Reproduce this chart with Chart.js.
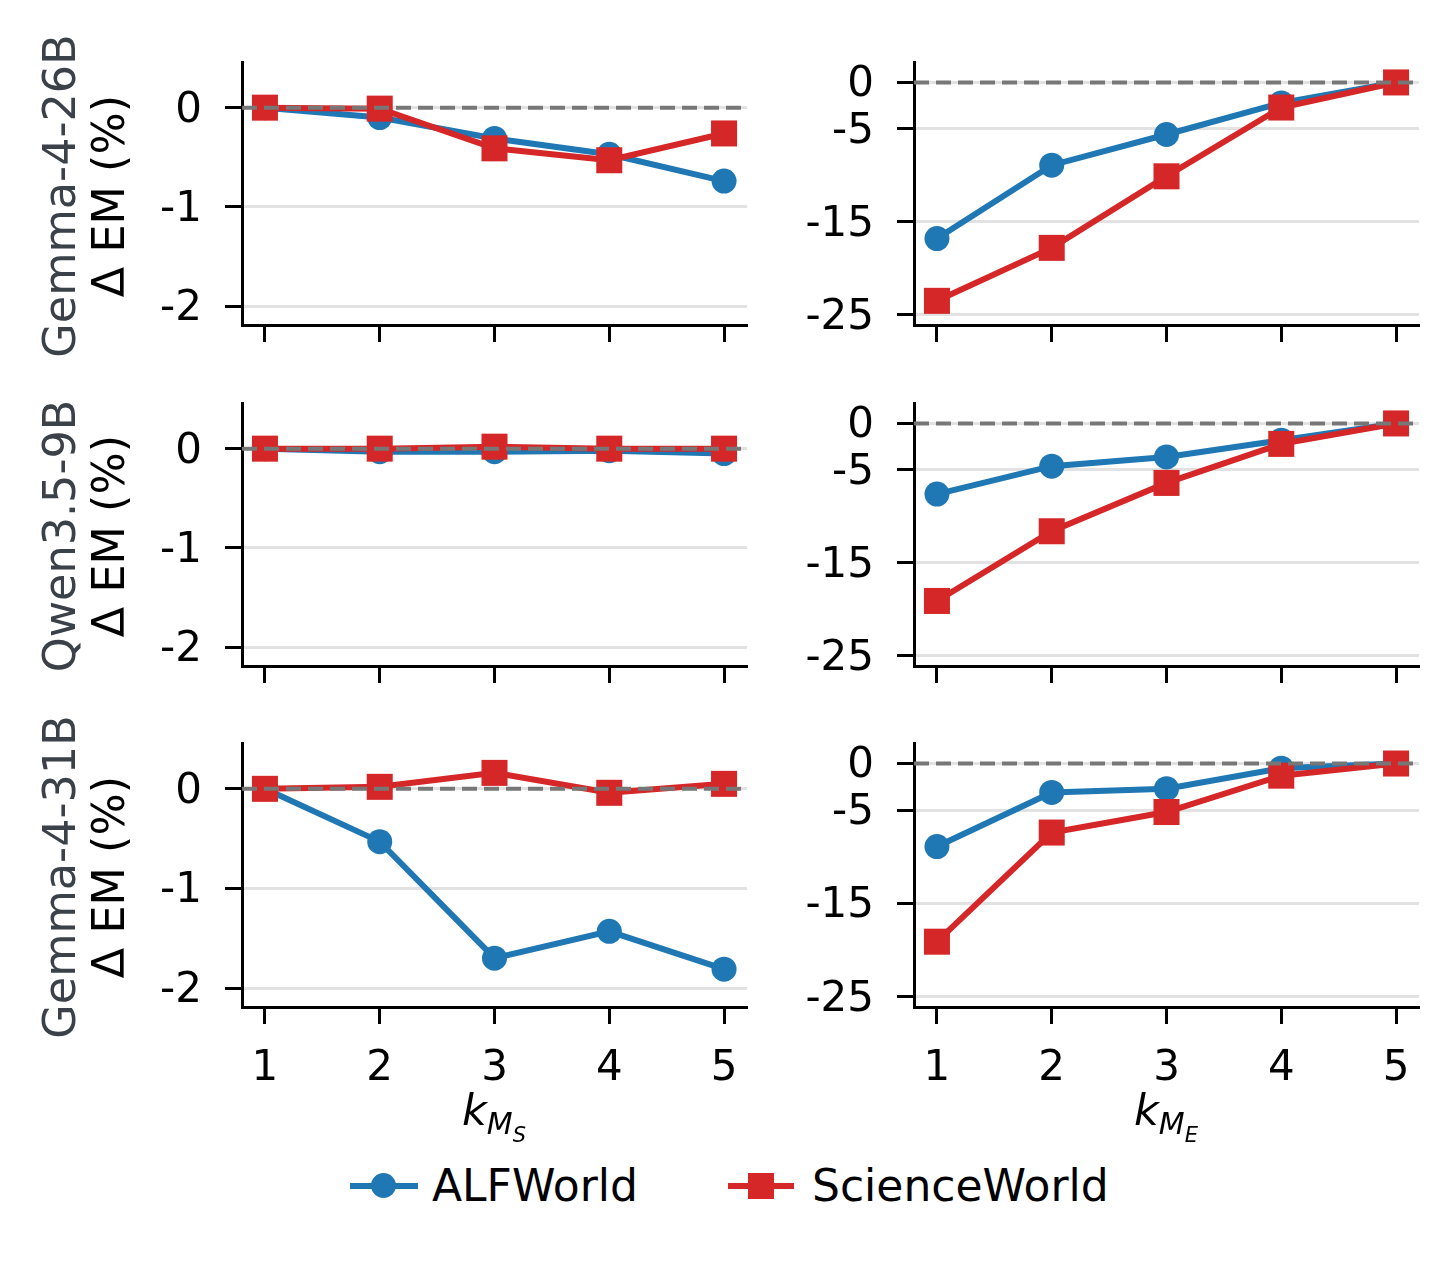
<!DOCTYPE html>
<html lang="en">
<head>
  <meta charset="UTF-8" />
  <title>Delta EM vs k</title>
  <script src="https://cdn.jsdelivr.net/npm/chart.js"></script>
  <style>
    body { margin: 0; width: 1450px; height: 1268px; background: #fff; position: relative; overflow: hidden;
           font-family: 'DejaVu Sans', sans-serif; }
    canvas { position: absolute; }
    .ylab { position: absolute; width: 440px; text-align: center; font-size: 44.5px; line-height: 49px;
            transform: translate(-50%, -50%) rotate(-90deg); white-space: nowrap; }
    .ylab .model { color: #3b4148; }
    .ylab .metric { color: #000; }
    .xlab { position: absolute; width: 300px; text-align: center; font-size: 43px; line-height: 43px;
            font-style: italic; transform: translateX(-50%); }
    .xlab .s1 { position: relative; top: 9px; font-size: 30px; }
    .xlab .s2 { position: relative; top: 8px; font-size: 21px; }
    .leg { position: absolute; }
    .legtxt { position: absolute; font-size: 44px; line-height: 44px; color: #000; white-space: nowrap; }
  </style>
</head>
<body>

  <canvas id="c00"></canvas><canvas id="c01"></canvas>
  <canvas id="c10"></canvas><canvas id="c11"></canvas>
  <canvas id="c20"></canvas><canvas id="c21"></canvas>

  <div class="ylab" style="left:84px; top:196px;"><div class="model">Gemma-4-26B</div><div class="metric">Δ EM (%)</div></div>
  <div class="ylab" style="left:84px; top:536px;"><div class="model">Qwen3.5-9B</div><div class="metric">Δ EM (%)</div></div>
  <div class="ylab" style="left:84px; top:877px;"><div class="model">Gemma-4-31B</div><div class="metric">Δ EM (%)</div></div>

  <div class="xlab" style="left:494px; top:1089px;">k<span class="s1">M<span class="s2">S</span></span></div>
  <div class="xlab" style="left:1166px; top:1089px;">k<span class="s1">M<span class="s2">E</span></span></div>

  <div class="leg" style="left:350px; top:1183px; width:68px; height:6px; background:#1f77b4;"></div>
  <div class="leg" style="left:371px; top:1173px; width:25px; height:25px; border-radius:50%; background:#1f77b4;"></div>
  <div class="legtxt" style="left:432px; top:1164px;">ALFWorld</div>
  <div class="leg" style="left:728px; top:1183px; width:66px; height:6px; background:#d62728;"></div>
  <div class="leg" style="left:748px; top:1173px; width:26px; height:26px; background:#d62728;"></div>
  <div class="legtxt" style="left:812px; top:1164px;">ScienceWorld</div>

  <script>
    // k values on the x axis
    const kValues = [1, 2, 3, 4, 5];
    const models = ['Gemma-4-26B', 'Qwen3.5-9B', 'Gemma-4-31B'];

    // left column: varying k_MS (one row per model)
    const alfWorldMS = [
      [0, -0.10, -0.31, -0.47, -0.74],
      [0, -0.03, -0.03, -0.02, -0.05],
      [0, -0.53, -1.70, -1.43, -1.81]
    ];
    const sciWorldMS = [
      [0, -0.01, -0.41, -0.53, -0.26],
      [0, 0.00, 0.02, 0.00, 0.00],
      [0, 0.02, 0.16, -0.04, 0.05]
    ];

    // right column: varying k_ME
    const alfWorldME = [
      [-16.8, -8.9, -5.6, -2.2, 0],
      [-7.6, -4.6, -3.6, -1.8, 0],
      [-8.9, -3.1, -2.7, -0.5, 0]
    ];
    const sciWorldME = [
      [-23.5, -17.8, -10.1, -2.7, 0],
      [-19.1, -11.6, -6.4, -2.2, 0],
      [-19.1, -7.4, -5.2, -1.3, 0]
    ];

    const ticksMS = [-2, -1, 0];
    const ticksME = [-25, -15, -5, 0];

    const BLUE = '#1f77b4';
    const RED = '#d62728';

    Chart.defaults.font.family = "'DejaVu Sans', sans-serif";

    // dashed reference line at zero, drawn over the data
    const zeroLine = {
      id: 'zeroLine',
      afterDatasetsDraw(chart) {
        const { ctx, chartArea: a, scales: { y } } = chart;
        const py = y.getPixelForValue(0);
        ctx.save();
        ctx.strokeStyle = '#777';
        ctx.lineWidth = 4;
        ctx.setLineDash([15, 7]);
        ctx.beginPath();
        ctx.moveTo(a.left, py);
        ctx.lineTo(a.right, py);
        ctx.stroke();
        ctx.restore();
      }
    };

    // chart area boxes (left, right) per column and (top, bottom) per row
    const colBox = [[242, 747], [914, 1419]];
    const rowBox = [[62, 325], [403, 666], [743, 1007]];
    const Y_W = 130, PAD_T = 60, PAD_R = 20;

    function makePanel(row, col) {
      const canvas = document.getElementById('c' + row + col);
      const [L, R] = colBox[col];
      const [T, B] = rowBox[row];
      const lastRow = row === rowBox.length - 1;
      const xH = lastRow ? 100 : 60;
      const cx = L - Y_W, cy = T - PAD_T;
      canvas.width = R - cx + PAD_R;
      canvas.height = B - cy + xH;
      canvas.style.left = cx + 'px';
      canvas.style.top = cy + 'px';

      const alf = col === 0 ? alfWorldMS[row] : alfWorldME[row];
      const sci = col === 0 ? sciWorldMS[row] : sciWorldME[row];
      const yTicks = col === 0 ? ticksMS : ticksME;
      const yMin = col === 0 ? -2.19 : -26.1;
      const yMax = col === 0 ? 0.46 : 2.2;

      new Chart(canvas, {
        type: 'line',
        data: {
          datasets: [
            {
              label: 'ALFWorld',
              data: kValues.map((k, i) => ({ x: k, y: alf[i] })),
              borderColor: BLUE, backgroundColor: BLUE,
              borderWidth: 6, pointStyle: 'circle', pointRadius: 12.5,
              pointBorderWidth: 0, order: 1
            },
            {
              label: 'ScienceWorld',
              data: kValues.map((k, i) => ({ x: k, y: sci[i] })),
              borderColor: RED, backgroundColor: RED,
              borderWidth: 6, pointStyle: 'rect', pointRadius: 18.4,
              pointBorderWidth: 0, order: 0
            }
          ]
        },
        options: {
          responsive: false,
          animation: false,
          devicePixelRatio: 1,
          events: [],
          layout: { padding: { top: PAD_T, right: PAD_R, left: 0, bottom: 0 } },
          plugins: { legend: { display: false }, tooltip: { enabled: false } },
          scales: {
            x: {
              type: 'linear', min: 0.8, max: 5.2,
              afterBuildTicks: s => { s.ticks = kValues.map(v => ({ value: v })); },
              afterFit: s => { s.height = xH; },
              grid: { drawOnChartArea: false, drawTicks: true, tickLength: 17, tickWidth: 3, tickColor: '#000' },
              border: { color: '#000', width: 3 },
              ticks: { display: lastRow, color: '#000', font: { size: 42 }, padding: 20, maxRotation: 0,
                       callback: v => String(v) }
            },
            y: {
              min: yMin, max: yMax,
              afterBuildTicks: s => { s.ticks = yTicks.map(v => ({ value: v })); },
              afterFit: s => { s.width = Y_W; },
              grid: { color: '#e2e2e2', lineWidth: 3, drawTicks: true, tickLength: 17, tickWidth: 3, tickColor: '#000' },
              border: { color: '#000', width: 3 },
              ticks: { color: '#000', font: { size: 42 }, padding: 23, labelOffset: 3, callback: v => String(v) }
            }
          }
        },
        plugins: [zeroLine]
      });
    }

    for (let r = 0; r < models.length; r++) {
      makePanel(r, 0);
      makePanel(r, 1);
    }
  </script>
</body>
</html>
